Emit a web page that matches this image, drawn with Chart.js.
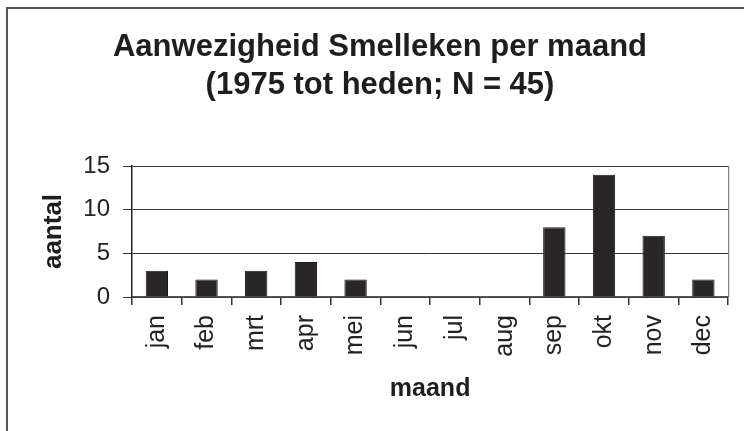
<!DOCTYPE html>
<html>
<head>
<meta charset="utf-8">
<script src="https://cdn.jsdelivr.net/npm/chart.js@4"></script>
<style>
  html, body { margin: 0; padding: 0; background: #fff; }
  #wrap { position: relative; width: 744px; height: 431px; }
</style>
</head>
<body>
<div id="wrap"><canvas id="smellekenChart" width="744" height="431"></canvas></div>
<script>
// Gegevens
const maanden = ['jan', 'feb', 'mrt', 'apr', 'mei', 'jun', 'jul', 'aug', 'sep', 'okt', 'nov', 'dec'];
const aantallen = [3, 2, 3, 4, 2, 0, 0, 0, 8, 14, 7, 2];
const titelRegels = ['Aanwezigheid Smelleken per maand', '(1975 tot heden; N = 45)'];
const yTicks = [0, 5, 10, 15];

const FONT = "'Liberation Sans', Arial, sans-serif";

// Titel en kaders tekenen
const kaderPlugin = {
  id: 'kader',
  beforeDraw(chart) {
    const ctx = chart.ctx;
    ctx.save();
    ctx.fillStyle = '#fff';
    ctx.fillRect(0, 0, chart.width, chart.height);
    // buitenkader (alleen links en boven zichtbaar)
    ctx.strokeStyle = '#555';
    ctx.lineWidth = 2;
    ctx.beginPath();
    ctx.moveTo(7, chart.height);
    ctx.lineTo(7, 8);
    ctx.lineTo(chart.width, 8);
    ctx.stroke();
    ctx.restore();
  },
  afterDraw(chart) {
    const ctx = chart.ctx;
    const a = chart.chartArea;
    ctx.save();
    // rechterrand van het plotgebied
    ctx.strokeStyle = '#666';
    ctx.lineWidth = 1;
    ctx.beginPath();
    ctx.moveTo(a.right + 0.5, a.top);
    ctx.lineTo(a.right + 0.5, a.bottom);
    ctx.stroke();
    // titel
    ctx.fillStyle = '#1e1e1e';
    ctx.font = 'bold 31px ' + FONT;
    ctx.textAlign = 'center';
    ctx.textBaseline = 'alphabetic';
    titelRegels.forEach((regel, i) => {
      ctx.fillText(regel, 380, 56 + i * 38);
    });
    ctx.restore();
  }
};

const ctx = document.getElementById('smellekenChart').getContext('2d');

const chart = new Chart(ctx, {
  type: 'bar',
  data: {
    labels: maanden,
    datasets: [{
      label: 'aantal',
      data: aantallen,
      backgroundColor: '#2a2527',
      borderColor: '#1a1617',
      borderWidth: 1,
      barPercentage: 0.45,
      categoryPercentage: 1
    }]
  },
  options: {
    responsive: false,
    animation: false,
    devicePixelRatio: 1,
    layout: {
      padding: { top: 166, right: 15, bottom: 0, left: 0 }
    },
    plugins: {
      legend: { display: false },
      tooltip: { enabled: false },
      title: { display: false }
    },
    scales: {
      x: {
        grid: {
          offset: true,
          drawOnChartArea: false,
          drawTicks: true,
          tickLength: 8,
          color: '#333',
          lineWidth: 1.5
        },
        border: { display: true, color: '#555', width: 1.5 },
        ticks: {
          minRotation: 90,
          maxRotation: 90,
          padding: 10,
          color: '#222',
          font: { family: FONT, size: 25 }
        },
        title: {
          display: true,
          text: 'maand',
          color: '#1e1e1e',
          font: { family: FONT, size: 25, weight: 'bold' },
          padding: { top: 0, bottom: 27 }
        },
        afterFit(scale) { scale.height = 134; }
      },
      y: {
        min: 0,
        max: 15,
        afterBuildTicks(scale) { scale.ticks = yTicks.map(v => ({ value: v })); },
        grid: {
          color: '#333',
          lineWidth: 1,
          drawTicks: true,
          tickLength: 9
        },
        border: { display: true, color: '#222', width: 1.5 },
        ticks: {
          padding: 13,
          color: '#222',
          font: { family: FONT, size: 24 }
        },
        title: {
          display: true,
          text: 'aantal',
          color: '#1e1e1e',
          font: { family: FONT, size: 26, weight: 'bold' },
          padding: { top: 38, bottom: 0 }
        },
        afterFit(scale) { scale.width = 132; }
      }
    }
  },
  plugins: [kaderPlugin]
});
</script>
</body>
</html>
